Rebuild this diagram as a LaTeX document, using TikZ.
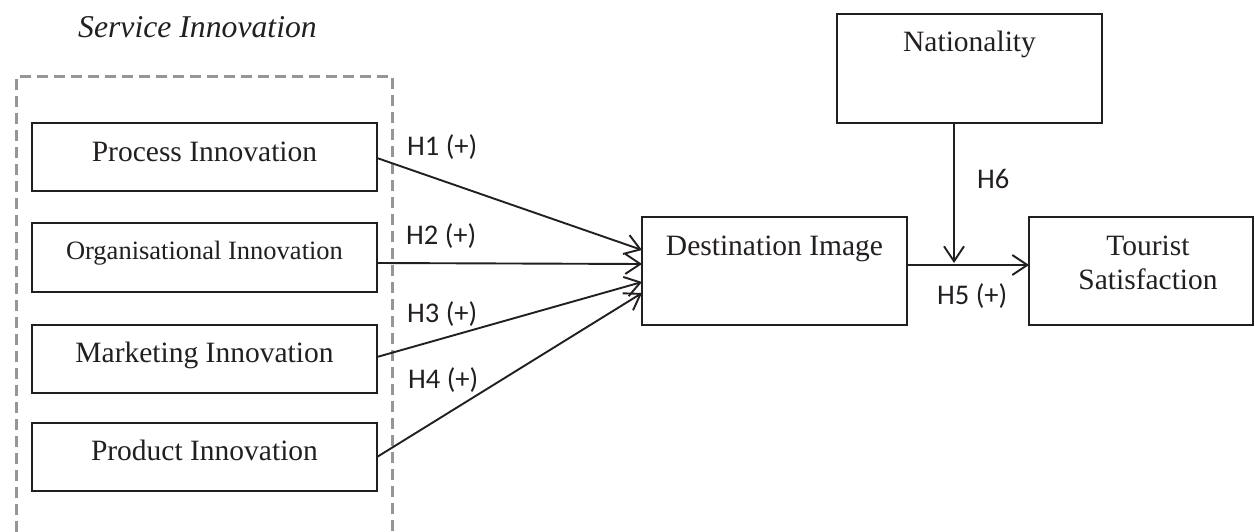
\documentclass[tikz,border=0pt]{standalone}
\usepackage{fontspec}
\setmainfont{Liberation Serif}
\newfontfamily\hypfont{Carlito}
\usetikzlibrary{arrows.meta}
\definecolor{ink}{RGB}{35,31,32}
\definecolor{groupgray}{RGB}{150,150,150}

\tikzset{
  concept/.style={draw=ink, line width=2.2pt, inner sep=0pt, outer sep=0pt,
    text=ink, font=\fontsize{29.5}{34}\selectfont},
  link/.style={draw=ink, line width=1.9pt, -{Straight Barb[length=15pt,width=20pt]}},
  hyp/.style={anchor=base west, inner sep=0pt, text=ink,
    font=\hypfont\fontsize{28.5}{34}\selectfont},
  group/.style={draw=groupgray, line width=3.5pt, dash pattern=on 11pt off 6pt},
}

\begin{document}
\begin{tikzpicture}[x=1pt, y=-1pt]
\useasboundingbox (0,0) rectangle (1255,532);

% grouping frame for the four innovation types (open at the bottom)
\draw[group] (16.5,532) -- (16.5,76.5) -- (392.5,76.5) -- (392.5,532);
\node[anchor=base west, inner sep=0pt, text=ink,
      font=\itshape\fontsize{31.7}{36}\selectfont] (svc) at (78,38) {Service Innovation};

% innovation constructs
\node[concept, minimum width=345pt, text height=38pt, text depth=30pt] (proc) at (204.5,157) {Process Innovation};
\node[concept, minimum width=345pt, text height=36pt, text depth=33pt,
      font=\fontsize{26.5}{30}\selectfont] (org) at (204.5,257.5) {Organisational Innovation};
\node[concept, minimum width=345pt, text height=37pt, text depth=31pt] (mkt) at (204.5,359) {Marketing Innovation};
\node[concept, minimum width=345pt, text height=37pt, text depth=31pt] (prod) at (204.5,457) {Product Innovation};

% outcome constructs and moderator
\node[concept, minimum width=265pt, text height=38pt, text depth=70pt] (dest) at (774.5,271) {Destination Image};
\node[concept, minimum width=224pt, text height=38pt, text depth=70pt] (tour) at (1141,271)
  {\hspace*{14pt}\begin{tabular}[t]{@{}c@{}}Tourist\\Satisfaction\end{tabular}};
\node[concept, minimum width=265pt, text height=38pt, text depth=71pt] (nat) at (969.5,68.5) {Nationality};

% hypothesised paths
\draw[link] ([yshift=-1pt]proc.east) -- ([yshift=21pt]dest.west);
\draw[link] ([yshift=-5.5pt]org.east) -- ([yshift=7pt]dest.west);
\draw[link] ([yshift=2pt]mkt.east) -- ([yshift=-11pt]dest.west);
\draw[link] (prod.east) -- ([yshift=-22pt]dest.west);
\draw[link] ([yshift=6pt]dest.east) -- ([yshift=6pt]tour.west);
\coordinate (join) at (954,263);
\draw[link] ([xshift=-15.5pt]nat.south) -- (join);

% path labels
\node[hyp] (h1) at (407,156) {H1 (+)};
\node[hyp] (h2) at (406,244) {H2 (+)};
\node[hyp] (h3) at (407,322) {H3 (+)};
\node[hyp] (h4) at (408,388) {H4 (+)};
\node[hyp] (h5) at (937,304) {H5 (+)};
\node[hyp] (h6) at (977,188) {H6};
\end{tikzpicture}
\end{document}
